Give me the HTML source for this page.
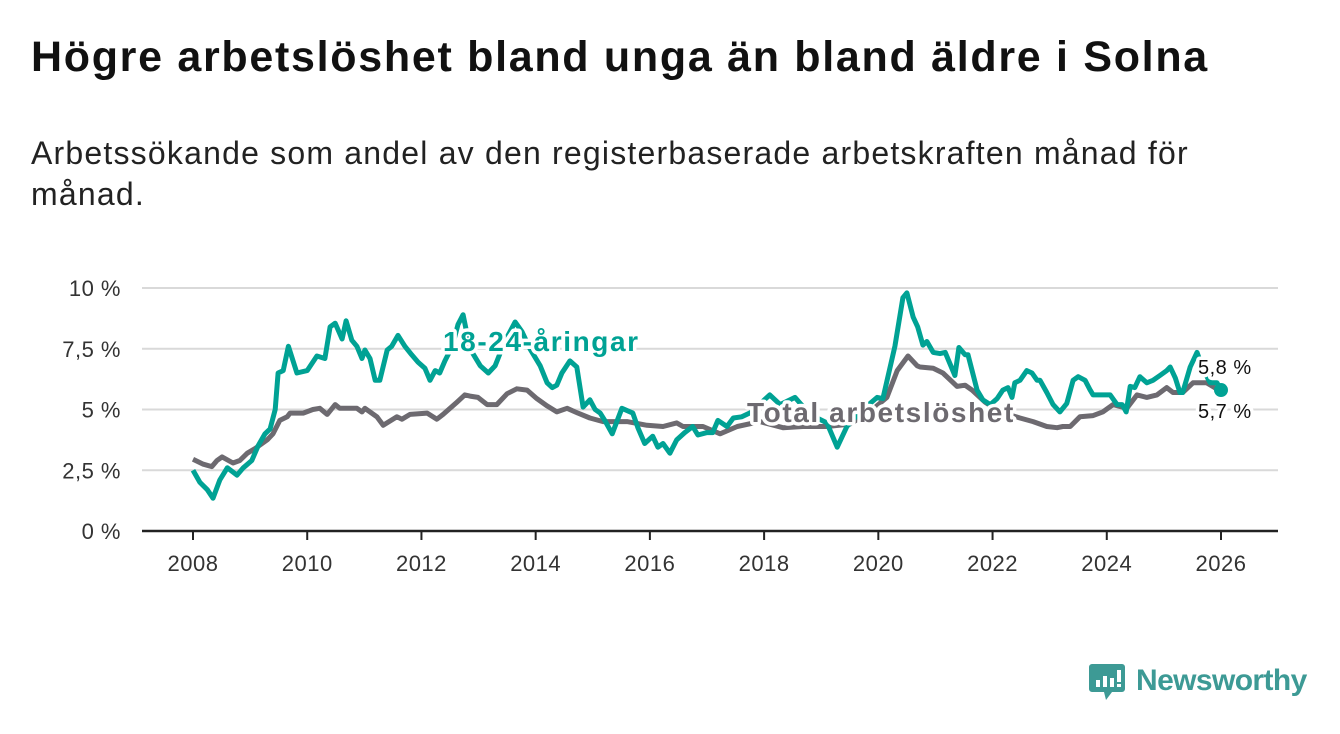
<!DOCTYPE html>
<html><head><meta charset="utf-8">
<style>
html,body{margin:0;padding:0;background:#fff;}
body{width:1340px;height:734px;position:relative;overflow:hidden;font-family:"Liberation Sans","DejaVu Sans",sans-serif;color:#111;}
#title{position:absolute;left:31px;top:33px;font-size:43px;font-weight:bold;margin:0;letter-spacing:1.7px;white-space:nowrap;}
#subtitle{position:absolute;left:31px;top:133px;font-size:32px;line-height:41px;width:1200px;margin:0;color:#222;letter-spacing:1.2px;}
svg{position:absolute;left:0;top:0;}
</style></head><body>
<h1 id="title">Högre arbetslöshet bland unga än bland äldre i Solna</h1>
<p id="subtitle">Arbetssökande som andel av den registerbaserade arbetskraften månad för månad.</p>
<svg id="chart" width="1340" height="734"></svg>
<script>
const yTicks=[0,2.5,5,7.5,10];
const yTickLabels=["0 %","2,5 %","5 %","7,5 %","10 %"];
const xTicks=[2008,2010,2012,2014,2016,2018,2020,2022,2024,2026];
const youthDates=[2008.0,2008.12,2008.25,2008.35,2008.47,2008.6,2008.77,2008.88,2009.03,2009.14,2009.26,2009.35,2009.44,2009.49,2009.58,2009.67,2009.82,2010.0,2010.17,2010.31,2010.4,2010.49,2010.61,2010.68,2010.78,2010.87,2010.96,2011.01,2011.1,2011.19,2011.27,2011.4,2011.48,2011.59,2011.71,2011.83,2011.94,2012.06,2012.15,2012.24,2012.32,2012.41,2012.54,2012.64,2012.73,2012.85,2013.03,2013.17,2013.29,2013.46,2013.64,2013.76,2013.9,2014.08,2014.2,2014.29,2014.37,2014.46,2014.6,2014.72,2014.83,2014.95,2015.04,2015.13,2015.21,2015.34,2015.51,2015.7,2015.79,2015.91,2016.05,2016.14,2016.23,2016.35,2016.47,2016.61,2016.75,2016.84,2017.0,2017.1,2017.19,2017.35,2017.46,2017.61,2017.79,2017.96,2018.1,2018.28,2018.54,2018.8,2019.1,2019.28,2019.45,2019.68,2019.98,2020.08,2020.29,2020.43,2020.5,2020.61,2020.69,2020.78,2020.85,2020.96,2021.08,2021.17,2021.34,2021.41,2021.52,2021.57,2021.73,2021.83,2021.96,2022.08,2022.18,2022.27,2022.34,2022.39,2022.48,2022.6,2022.69,2022.78,2022.83,2022.95,2023.06,2023.18,2023.3,2023.41,2023.5,2023.62,2023.71,2023.76,2024.06,2024.18,2024.27,2024.34,2024.41,2024.49,2024.58,2024.7,2024.81,2024.93,2025.05,2025.11,2025.2,2025.28,2025.33,2025.46,2025.58,2025.68,2025.81,2025.93,2026.0];
const youthValues=[2.5,2.0,1.7,1.35,2.1,2.6,2.3,2.6,2.9,3.5,4.0,4.2,5.0,6.5,6.6,7.6,6.5,6.6,7.2,7.1,8.4,8.55,7.9,8.65,7.85,7.6,7.1,7.45,7.1,6.2,6.2,7.45,7.6,8.05,7.6,7.25,6.95,6.7,6.2,6.6,6.5,7.0,7.6,8.5,8.9,7.5,6.8,6.5,6.8,7.8,8.6,8.2,7.5,6.8,6.1,5.9,6.0,6.5,7.0,6.75,5.1,5.4,5.0,4.85,4.55,4.0,5.05,4.85,4.25,3.6,3.9,3.45,3.6,3.2,3.75,4.05,4.3,3.95,4.05,4.05,4.55,4.3,4.65,4.7,4.9,5.3,5.6,5.2,5.5,4.8,4.45,3.45,4.3,4.9,5.5,5.45,7.6,9.6,9.8,8.8,8.4,7.65,7.8,7.35,7.3,7.35,6.4,7.55,7.25,7.25,5.8,5.4,5.2,5.45,5.8,5.9,5.5,6.1,6.2,6.6,6.5,6.2,6.2,5.7,5.2,4.9,5.25,6.2,6.35,6.2,5.8,5.6,5.6,5.2,5.2,4.9,5.95,5.9,6.35,6.1,6.2,6.4,6.6,6.75,6.3,5.7,5.7,6.75,7.35,6.7,6.1,6.1,5.8];
const totalDates=[2008.0,2008.18,2008.33,2008.42,2008.51,2008.7,2008.82,2008.95,2009.09,2009.3,2009.4,2009.52,2009.65,2009.7,2009.93,2010.1,2010.22,2010.35,2010.49,2010.57,2010.87,2010.96,2011.01,2011.22,2011.33,2011.57,2011.66,2011.8,2012.1,2012.27,2012.38,2012.62,2012.76,2012.85,2012.99,2013.15,2013.32,2013.5,2013.67,2013.85,2014.02,2014.2,2014.37,2014.55,2014.74,2014.95,2015.18,2015.6,2015.95,2016.23,2016.47,2016.58,2016.93,2017.23,2017.53,2017.93,2018.33,2018.68,2019.1,2019.5,2019.85,2020.15,2020.33,2020.52,2020.68,2020.73,2020.96,2021.13,2021.38,2021.52,2021.64,2021.87,2022.13,2022.48,2022.71,2022.95,2023.13,2023.23,2023.36,2023.53,2023.76,2023.93,2024.11,2024.35,2024.53,2024.7,2024.88,2025.05,2025.16,2025.33,2025.51,2025.75,2025.89,2026.0];
const totalValues=[2.95,2.75,2.65,2.9,3.05,2.8,2.9,3.2,3.4,3.75,4.0,4.55,4.7,4.85,4.85,5.0,5.05,4.8,5.2,5.05,5.05,4.9,5.05,4.7,4.35,4.7,4.6,4.8,4.85,4.6,4.8,5.3,5.6,5.55,5.5,5.2,5.2,5.65,5.85,5.8,5.45,5.15,4.9,5.05,4.85,4.65,4.5,4.5,4.35,4.3,4.45,4.3,4.3,4.0,4.3,4.5,4.25,4.3,4.3,4.4,4.9,5.5,6.6,7.2,6.8,6.75,6.7,6.5,5.95,6.0,5.8,5.3,4.9,4.65,4.5,4.3,4.25,4.3,4.3,4.7,4.75,4.9,5.2,5.05,5.6,5.5,5.6,5.9,5.7,5.7,6.1,6.1,5.9,5.7];
const endLabels=["5,8 %","5,7 %"];

const NS="http://www.w3.org/2000/svg";
const svg=document.getElementById('chart');
const X0=193,X1=1221,Y0=531,Y1=288;
function xs(t){return X0+(t-2008)/(2026-2008)*(X1-X0);}
function ys(v){return Y0-v/10*(Y0-Y1);}
function mk(tag,attrs){const e=document.createElementNS(NS,tag);for(const k in attrs)e.setAttribute(k,attrs[k]);svg.appendChild(e);return e;}

yTicks.forEach((v,i)=>{
  if(v>0){const g=mk('line',{x1:142,x2:1278,y1:ys(v),y2:ys(v),stroke:'#d9d9d9','stroke-width':2});
  
  }
  const t=mk('text',{x:121,y:ys(v)+8,'text-anchor':'end','font-size':22,fill:'#333','font-family':'Liberation Sans, sans-serif','letter-spacing':0.5});
  t.textContent=yTickLabels[i];
  
  
});
const ax=mk('line',{x1:142,x2:1278,y1:Y0,y2:Y0,stroke:'#222','stroke-width':2.5});


xTicks.forEach(y=>{
  const tk=mk('line',{x1:xs(y),x2:xs(y),y1:Y0,y2:Y0+9,stroke:'#222','stroke-width':2});
  
  
  const t=mk('text',{x:xs(y),y:571,'text-anchor':'middle','font-size':22,fill:'#333','font-family':'Liberation Sans, sans-serif','letter-spacing':0.5});
  t.textContent=y;
  
  
});
function path(d,v){return d.map((t,i)=>(i?'L':'M')+xs(t).toFixed(1)+','+ys(v[i]).toFixed(1)).join('');}
const tl=mk('path',{d:path(totalDates,totalValues),fill:'none',stroke:'#6d6a70','stroke-width':5,'stroke-linejoin':'round'});


const yl=mk('path',{d:path(youthDates,youthValues),fill:'none',stroke:'#00a294','stroke-width':5,'stroke-linejoin':'round'});


const dot=mk('circle',{cx:xs(youthDates[youthDates.length-1]),cy:ys(youthValues[youthValues.length-1]),r:7,fill:'#00a294'});



function label(txt,x,y,size,color,bold,anchor,ls,name){
  const t=mk('text',{x:x,y:y,'font-size':size,fill:color,'font-weight':bold?'bold':'normal','text-anchor':anchor,stroke:'#fff','stroke-width':7,'paint-order':'stroke','stroke-linejoin':'round','font-family':'Liberation Sans, sans-serif','letter-spacing':ls});
  t.textContent=txt;
  
  
}
label('18-24-åringar',443,351,28,'#00a294',true,'start',1.6,'youth-series-label');
label('Total arbetslöshet',747,422,28,'#6d6a70',true,'start',1.6,'total-series-label');
label(endLabels[0],1198,374,20,'#111',false,'start',0.5,'youth-end-label');
label(endLabels[1],1198,418,20,'#111',false,'start',0.5,'total-end-label');
</script>
<svg width="1340" height="734" style="pointer-events:none">
  <path d="M1092 664 h30 a3 3 0 0 1 3 3 v22 a3 3 0 0 1 -3 3 h-10 l-6 8 l-2 -8 h-12 a3 3 0 0 1 -3 -3 v-22 a3 3 0 0 1 3 -3z" fill="#3d9a95"/>
  <rect x="1096" y="680" width="4" height="7" fill="#fff"/>
  <rect x="1103" y="676" width="4" height="11" fill="#fff"/>
  <rect x="1110" y="678" width="4" height="9" fill="#fff"/>
  <rect x="1117" y="670" width="4" height="12" fill="#fff"/>
  <rect x="1117" y="684" width="4" height="3" fill="#fff"/>
  <text x="1136" y="690" font-size="30" fill="#3d9a95" font-family="Liberation Sans, sans-serif" font-weight="bold" letter-spacing="-0.6">Newsworthy</text>
</svg>
</body></html>
